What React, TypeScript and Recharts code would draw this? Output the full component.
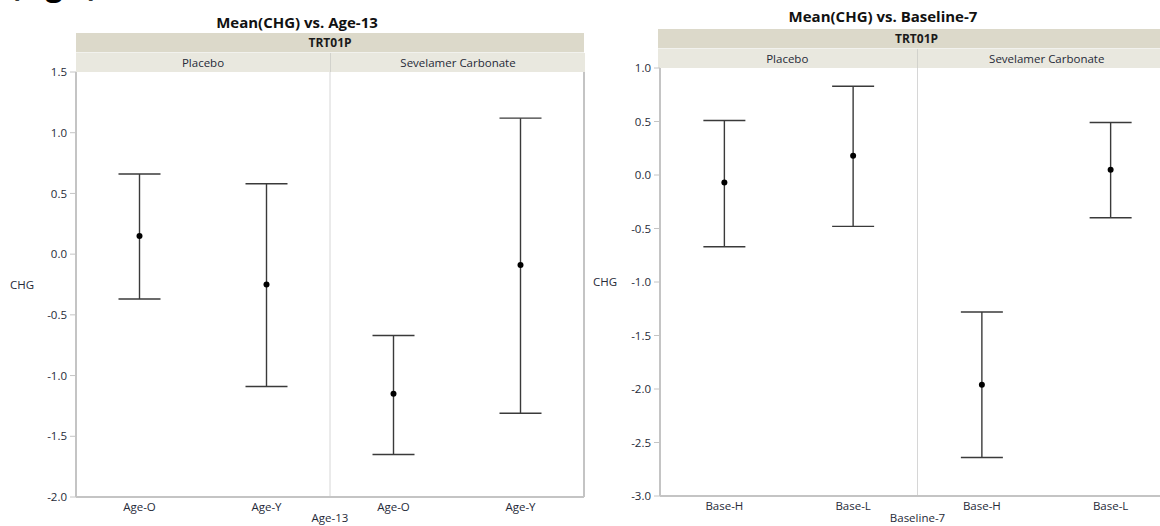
import { ComposedChart, Scatter, ErrorBar, XAxis, YAxis, ReferenceLine } from 'recharts';

// Mean(CHG) vs. Age-13
const ageCats = ['Age-O', 'Age-Y', 'Age-O', 'Age-Y'];
const ageMean = [0.15, -0.25, -1.15, -0.09];
const ageUpper = [0.66, 0.58, -0.67, 1.12];
const ageLower = [-0.37, -1.09, -1.65, -1.31];
const ageTicks = [-2.0, -1.5, -1.0, -0.5, 0.0, 0.5, 1.0, 1.5];

// Mean(CHG) vs. Baseline-7
const baseCats = ['Base-H', 'Base-L', 'Base-H', 'Base-L'];
const baseMean = [-0.07, 0.18, -1.96, 0.05];
const baseUpper = [0.51, 0.83, -1.28, 0.49];
const baseLower = [-0.67, -0.48, -2.64, -0.40];
const baseTicks = [-3.0, -2.5, -2.0, -1.5, -1.0, -0.5, 0.0, 0.5, 1.0];

const panels = ['Placebo', 'Sevelamer Carbonate'];
const catTicks = [0.5, 1.5, 2.5, 3.5];

const FONT = '"Open Sans", "Noto Sans", sans-serif';
const TXT = '#262a38';
const AXIS = '#c4c4c4';

const build = (mean: number[], up: number[], lo: number[]) =>
  mean.map((m, i) => ({ x: i + 0.5, mean: m, err: [m - lo[i], up[i] - m] }));

const dot = (p: any) => <circle cx={p.cx} cy={p.cy} r={3} fill="#000" />;

function Header({ left, width, top, title, titleCenter, titleTop }: any) {
  const half = width / 2;
  return (
    <>
      <div style={{ position: 'absolute', left: titleCenter - 200, width: 400, top: titleTop, textAlign: 'center', fontWeight: 700, fontSize: 15, color: '#111', lineHeight: '18px' }}>{title}</div>
      <div style={{ position: 'absolute', left, width, top, height: 19, background: '#dcd9ca', borderBottom: '1px solid #f2f2ee', textAlign: 'center', fontWeight: 700, fontSize: 12, lineHeight: '19px', color: '#1a1a1a' }}>TRT01P</div>
      {panels.map((p, i) => (
        <div key={p} style={{ position: 'absolute', left: left + i * half, width: half, top: top + 20, height: 19, background: '#e9e8df', borderLeft: i ? '1px solid #d2d2cc' : 'none', textAlign: 'center', fontSize: 11.5, lineHeight: '19px', color: TXT }}>{p}</div>
      ))}
    </>
  );
}

function Panel({ data, cats, ticks, domain, xLabel, width, margin, yWidth, xHeight }: any) {
  return (
    <ComposedChart width={width} height={526} data={data} margin={margin}>
      <XAxis type="number" dataKey="x" domain={[0, 4]} ticks={catTicks} interval={0}
        tickFormatter={(_v: any, i: number) => cats[i]} tickLine={false} tickMargin={0}
        axisLine={{ stroke: AXIS, strokeWidth: 2 }} height={xHeight}
        tick={{ fill: TXT, fontSize: 11.5, fontFamily: FONT }}
        label={{ value: xLabel, position: 'insideBottom', offset: 4, fill: TXT, fontSize: 11.5, fontFamily: FONT }} />
      <YAxis type="number" dataKey="mean" domain={domain} ticks={ticks} interval={0} width={yWidth}
        tickFormatter={(v: number) => v.toFixed(1)} tickSize={6} tickMargin={3}
        tickLine={{ stroke: AXIS }} axisLine={{ stroke: AXIS, strokeWidth: 2 }}
        tick={{ fill: TXT, fontSize: 11.5, fontFamily: FONT }}
        label={{ value: 'CHG', position: 'insideLeft', offset: 0, fill: TXT, fontSize: 11.5, fontFamily: FONT }} />
      <ReferenceLine x={2} stroke="#d6d6d6" strokeWidth={1} />
      <ReferenceLine x={4} stroke={AXIS} strokeWidth={2} />
      <Scatter dataKey="mean" isAnimationActive={false} shape={dot}>
        <ErrorBar dataKey="err" direction="y" width={21} stroke="#3a3a3a" strokeWidth={1.4} isAnimationActive={false} />
      </Scatter>
    </ComposedChart>
  );
}

export default function App() {
  return (
    <div style={{ position: 'fixed', left: 0, top: 0, width: 1160, height: 526, overflow: 'hidden', background: '#fff', fontFamily: FONT }}>
      <div style={{ position: 'absolute', left: 10, top: -33, fontSize: 30, fontWeight: 700, color: '#000', lineHeight: '36px' }}>(Fig 1)</div>

      <Header left={76} width={508} top={33} title="Mean(CHG) vs. Age-13" titleCenter={297} titleTop={13} />
      <div style={{ position: 'absolute', left: 0, top: 0 }}>
        <Panel data={build(ageMean, ageUpper, ageLower)} cats={ageCats} ticks={ageTicks} domain={[-2, 1.5]}
          xLabel="Age-13" width={590} margin={{ top: 72, right: 6, bottom: 0, left: 10 }} yWidth={66} xHeight={29} />
      </div>

      <Header left={658} width={517} top={29} title="Mean(CHG) vs. Baseline-7" titleCenter={883} titleTop={7} />
      <div style={{ position: 'absolute', left: 590, top: 0 }}>
        <Panel data={build(baseMean, baseUpper, baseLower)} cats={baseCats} ticks={baseTicks} domain={[-3, 1]}
          xLabel="Baseline-7" width={600} margin={{ top: 68, right: 15, bottom: 0, left: 3 }} yWidth={67} xHeight={30} />
      </div>
    </div>
  );
}
